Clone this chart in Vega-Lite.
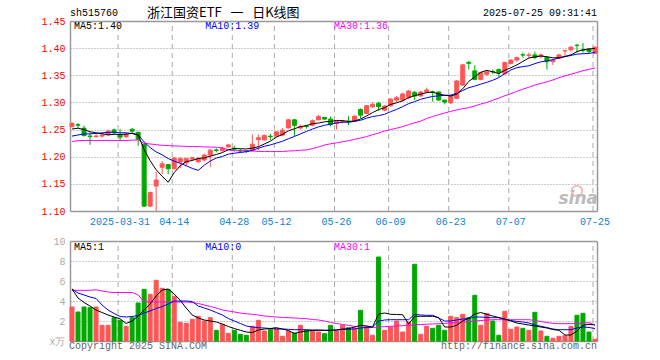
{
"$schema": "https://vega.github.io/schema/vega-lite/v6.json",
"width": 527, "height": 320,
"autosize": {"type": "none"},
"padding": {"left": 70, "top": 21, "right": 63, "bottom": 19},
"background": "white",
"config": {"view": {"stroke": null}, "font": "Liberation Mono", "text": {"font": "Liberation Mono", "fontSize": 10}},
"data": {"values": [
{"d":"2025-03-19","o":1.2556,"h":1.2638,"l":1.2538,"c":1.2611,"v":3.4,"m5":1.251,"m10":1.238,"m30":1.228,"vm5":5.2,"vm10":5.2,"vm30":5.07},
{"d":"2025-03-20","o":1.259,"h":1.262,"l":1.253,"c":1.258,"v":2.9,"m5":1.2525,"m10":1.24,"m30":1.2295,"vm5":4.3,"vm10":4.8,"vm30":5.07},
{"d":"2025-03-21","o":1.2525,"h":1.2575,"l":1.237,"c":1.239,"v":3.4,"m5":1.25,"m10":1.242,"m30":1.23,"vm5":3.85,"vm10":4.6,"vm30":5.07},
{"d":"2025-03-24","o":1.238,"h":1.245,"l":1.222,"c":1.237,"v":3.33,"m5":1.246,"m10":1.242,"m30":1.23,"vm5":3.5,"vm10":4.4,"vm30":5.07},
{"d":"2025-03-25","o":1.237,"h":1.242,"l":1.235,"c":1.238,"v":3.4,"m5":1.244,"m10":1.243,"m30":1.23,"vm5":3.1,"vm10":4.25,"vm30":5.13},
{"d":"2025-03-26","o":1.238,"h":1.243,"l":1.235,"c":1.24,"v":1.57,"m5":1.2424,"m10":1.244,"m30":1.23,"vm5":2.85,"vm10":3.6,"vm30":5.0},
{"d":"2025-03-27","o":1.2406,"h":1.25,"l":1.239,"c":1.247,"v":1.57,"m5":1.2402,"m10":1.245,"m30":1.23,"vm5":2.6,"vm10":3.1,"vm30":4.9},
{"d":"2025-03-28","o":1.2494,"h":1.252,"l":1.242,"c":1.244,"v":2.33,"m5":1.2412,"m10":1.245,"m30":1.23,"vm5":2.4,"vm10":2.75,"vm30":4.85},
{"d":"2025-03-31","o":1.2406,"h":1.251,"l":1.229,"c":1.236,"v":2.07,"m5":1.241,"m10":1.244,"m30":1.23,"vm5":2.23,"vm10":2.45,"vm30":4.85},
{"d":"2025-04-01","o":1.237,"h":1.244,"l":1.234,"c":1.241,"v":1.47,"m5":1.2416,"m10":1.2441,"m30":1.23,"vm5":1.75,"vm10":2.4,"vm30":4.85},
{"d":"2025-04-02","o":1.2506,"h":1.253,"l":1.242,"c":1.247,"v":2.33,"m5":1.243,"m10":1.2427,"m30":1.2305,"vm5":2.0,"vm10":2.45,"vm30":4.85},
{"d":"2025-04-03","o":1.245,"h":1.246,"l":1.22,"c":1.2325,"v":3.8,"m5":1.2401,"m10":1.2402,"m30":1.231,"vm5":2.5,"vm10":2.55,"vm30":4.6},
{"d":"2025-04-07","o":1.223,"h":1.224,"l":1.1075,"c":1.109,"v":5.17,"m5":1.2131,"m10":1.2272,"m30":1.2245,"vm5":3.1,"vm10":2.8,"vm30":3.95},
{"d":"2025-04-08","o":1.109,"h":1.136,"l":1.107,"c":1.134,"v":4.67,"m5":1.1927,"m10":1.2169,"m30":1.2235,"vm5":3.7,"vm10":3.0,"vm30":3.9},
{"d":"2025-04-09","o":1.146,"h":1.172,"l":1.1,"c":1.157,"v":6.07,"m5":1.1759,"m10":1.2088,"m30":1.2222,"vm5":4.5,"vm10":3.25,"vm30":3.9},
{"d":"2025-04-10","o":1.1806,"h":1.192,"l":1.168,"c":1.1869,"v":5.27,"m5":1.1639,"m10":1.2035,"m30":1.221,"vm5":5.1,"vm10":3.45,"vm30":3.9},
{"d":"2025-04-11","o":1.1856,"h":1.187,"l":1.168,"c":1.178,"v":5.13,"m5":1.153,"m10":1.1966,"m30":1.2205,"vm5":5.2,"vm10":3.7,"vm30":3.9},
{"d":"2025-04-14","o":1.178,"h":1.1994,"l":1.176,"c":1.1975,"v":4.47,"m5":1.1707,"m10":1.1919,"m30":1.2198,"vm5":4.7,"vm10":4.0,"vm30":3.9},
{"d":"2025-04-15","o":1.19,"h":1.1994,"l":1.179,"c":1.1963,"v":1.87,"m5":1.1831,"m10":1.1879,"m30":1.2195,"vm5":4.07,"vm10":4.0,"vm30":3.9},
{"d":"2025-04-16","o":1.189,"h":1.198,"l":1.1825,"c":1.1963,"v":1.77,"m5":1.1909,"m10":1.1834,"m30":1.219,"vm5":3.3,"vm10":4.0,"vm30":3.9},
{"d":"2025-04-17","o":1.1956,"h":1.2,"l":1.193,"c":1.198,"v":2.17,"m5":1.1931,"m10":1.1785,"m30":1.2188,"vm5":2.6,"vm10":3.95,"vm30":3.85},
{"d":"2025-04-18","o":1.1906,"h":1.1994,"l":1.1888,"c":1.1963,"v":2.47,"m5":1.1967,"m10":1.1749,"m30":1.2185,"vm5":2.3,"vm10":3.5,"vm30":3.75},
{"d":"2025-04-21","o":1.194,"h":1.206,"l":1.1916,"c":1.203,"v":2.0,"m5":1.1978,"m10":1.1843,"m30":1.218,"vm5":2.1,"vm10":3.3,"vm30":3.6},
{"d":"2025-04-22","o":1.203,"h":1.214,"l":1.181,"c":1.212,"v":2.33,"m5":1.201,"m10":1.1921,"m30":1.2178,"vm5":2.0,"vm10":3.1,"vm30":3.45},
{"d":"2025-04-23","o":1.2125,"h":1.2157,"l":1.208,"c":1.2115,"v":1.07,"m5":1.2041,"m10":1.1975,"m30":1.2175,"vm5":1.9,"vm10":2.85,"vm30":3.3},
{"d":"2025-04-24","o":1.211,"h":1.218,"l":1.2097,"c":1.2157,"v":1.67,"m5":1.2076,"m10":1.2004,"m30":1.216,"vm5":1.7,"vm10":2.6,"vm30":3.1},
{"d":"2025-04-25","o":1.218,"h":1.2235,"l":1.217,"c":1.2217,"v":0.77,"m5":1.2128,"m10":1.2047,"m30":1.2125,"vm5":1.45,"vm10":2.25,"vm30":3.0},
{"d":"2025-04-28","o":1.2157,"h":1.22,"l":1.2097,"c":1.214,"v":1.07,"m5":1.215,"m10":1.2064,"m30":1.211,"vm5":1.25,"vm10":2.0,"vm30":2.9},
{"d":"2025-04-29","o":1.211,"h":1.2145,"l":1.2073,"c":1.2105,"v":0.67,"m5":1.2147,"m10":1.2078,"m30":1.211,"vm5":1.07,"vm10":1.75,"vm30":2.8},
{"d":"2025-04-30","o":1.211,"h":1.212,"l":1.207,"c":1.2095,"v":0.57,"m5":1.2143,"m10":1.2092,"m30":1.211,"vm5":0.9,"vm10":1.5,"vm30":2.72},
{"d":"2025-05-06","o":1.212,"h":1.241,"l":1.2097,"c":1.223,"v":1.47,"m5":1.2157,"m10":1.2117,"m30":1.2105,"vm5":0.85,"vm10":1.4,"vm30":2.67},
{"d":"2025-05-07","o":1.2314,"h":1.241,"l":1.212,"c":1.235,"v":2.07,"m5":1.2184,"m10":1.2156,"m30":1.2097,"vm5":1.1,"vm10":1.33,"vm30":2.6},
{"d":"2025-05-08","o":1.2308,"h":1.241,"l":1.23,"c":1.239,"v":1.0,"m5":1.2234,"m10":1.2192,"m30":1.2097,"vm5":1.2,"vm10":1.3,"vm30":2.5},
{"d":"2025-05-09","o":1.2377,"h":1.242,"l":1.231,"c":1.237,"v":1.17,"m5":1.2287,"m10":1.2217,"m30":1.2095,"vm5":1.25,"vm10":1.25,"vm30":2.45},
{"d":"2025-05-12","o":1.238,"h":1.247,"l":1.236,"c":1.2458,"v":1.23,"m5":1.236,"m10":1.2251,"m30":1.2095,"vm5":1.33,"vm10":1.2,"vm30":2.4},
{"d":"2025-05-13","o":1.2398,"h":1.253,"l":1.238,"c":1.2488,"v":0.47,"m5":1.2411,"m10":1.2284,"m30":1.2095,"vm5":1.2,"vm10":1.2,"vm30":2.35},
{"d":"2025-05-14","o":1.253,"h":1.2693,"l":1.2518,"c":1.268,"v":1.0,"m5":1.2477,"m10":1.2331,"m30":1.2105,"vm5":1.05,"vm10":1.17,"vm30":2.33},
{"d":"2025-05-15","o":1.268,"h":1.269,"l":1.2374,"c":1.2578,"v":0.8,"m5":1.2515,"m10":1.2374,"m30":1.211,"vm5":0.75,"vm10":1.13,"vm30":2.3},
{"d":"2025-05-16","o":1.253,"h":1.259,"l":1.25,"c":1.256,"v":1.57,"m5":1.2553,"m10":1.242,"m30":1.212,"vm5":0.9,"vm10":1.13,"vm30":2.27},
{"d":"2025-05-19","o":1.2565,"h":1.259,"l":1.2518,"c":1.256,"v":1.07,"m5":1.2573,"m10":1.2466,"m30":1.2125,"vm5":1.0,"vm10":1.13,"vm30":2.23},
{"d":"2025-05-20","o":1.258,"h":1.2687,"l":1.256,"c":1.2663,"v":1.07,"m5":1.2608,"m10":1.251,"m30":1.215,"vm5":1.05,"vm10":1.1,"vm30":2.15},
{"d":"2025-05-21","o":1.268,"h":1.277,"l":1.267,"c":1.274,"v":0.9,"m5":1.262,"m10":1.2549,"m30":1.218,"vm5":1.07,"vm10":1.1,"vm30":2.1},
{"d":"2025-05-22","o":1.2723,"h":1.2725,"l":1.268,"c":1.2693,"v":0.73,"m5":1.2643,"m10":1.2579,"m30":1.2215,"vm5":1.07,"vm10":1.07,"vm30":2.0},
{"d":"2025-05-23","o":1.2693,"h":1.274,"l":1.256,"c":1.259,"v":1.57,"m5":1.2649,"m10":1.2601,"m30":1.2238,"vm5":1.07,"vm10":1.07,"vm30":1.85},
{"d":"2025-05-26","o":1.2612,"h":1.2673,"l":1.25,"c":1.2655,"v":1.0,"m5":1.2668,"m10":1.2621,"m30":1.2255,"vm5":1.1,"vm10":1.1,"vm30":1.75},
{"d":"2025-05-27","o":1.264,"h":1.2673,"l":1.261,"c":1.265,"v":1.57,"m5":1.2666,"m10":1.2637,"m30":1.2275,"vm5":1.2,"vm10":1.15,"vm30":1.65},
{"d":"2025-05-28","o":1.2656,"h":1.2747,"l":1.258,"c":1.265,"v":1.33,"m5":1.2648,"m10":1.2634,"m30":1.2295,"vm5":1.23,"vm10":1.17,"vm30":1.57},
{"d":"2025-05-29","o":1.2655,"h":1.276,"l":1.2643,"c":1.2747,"v":1.3,"m5":1.2658,"m10":1.2651,"m30":1.232,"vm5":1.4,"vm10":1.2,"vm30":1.45},
{"d":"2025-05-30","o":1.287,"h":1.289,"l":1.2704,"c":1.2766,"v":3.07,"m5":1.2694,"m10":1.2671,"m30":1.2345,"vm5":1.57,"vm10":1.3,"vm30":1.4},
{"d":"2025-06-03","o":1.2797,"h":1.295,"l":1.2785,"c":1.2939,"v":1.47,"m5":1.275,"m10":1.2709,"m30":1.237,"vm5":1.5,"vm10":1.35,"vm30":1.33},
{"d":"2025-06-04","o":1.292,"h":1.3,"l":1.29,"c":1.2963,"v":0.57,"m5":1.2813,"m10":1.2739,"m30":1.2405,"vm5":1.4,"vm10":1.4,"vm30":1.35},
{"d":"2025-06-05","o":1.2982,"h":1.3013,"l":1.2846,"c":1.292,"v":8.4,"m5":1.2867,"m10":1.2757,"m30":1.2435,"vm5":2.7,"vm10":2.0,"vm30":1.4},
{"d":"2025-06-06","o":1.2858,"h":1.295,"l":1.284,"c":1.2933,"v":1.07,"m5":1.2904,"m10":1.2781,"m30":1.2475,"vm5":2.8,"vm10":2.1,"vm30":1.43},
{"d":"2025-06-09","o":1.2939,"h":1.3075,"l":1.292,"c":1.3062,"v":1.4,"m5":1.2963,"m10":1.2829,"m30":1.25,"vm5":2.67,"vm10":2.13,"vm30":1.47},
{"d":"2025-06-10","o":1.3044,"h":1.3118,"l":1.3007,"c":1.3087,"v":2.0,"m5":1.2993,"m10":1.2872,"m30":1.2525,"vm5":2.65,"vm10":2.13,"vm30":1.5},
{"d":"2025-06-11","o":1.3044,"h":1.318,"l":1.3013,"c":1.3155,"v":0.9,"m5":1.3031,"m10":1.2922,"m30":1.2555,"vm5":2.63,"vm10":2.13,"vm30":1.53},
{"d":"2025-06-12","o":1.3093,"h":1.3229,"l":1.3056,"c":1.321,"v":1.9,"m5":1.3089,"m10":1.2978,"m30":1.259,"vm5":1.7,"vm10":2.13,"vm30":1.57},
{"d":"2025-06-13","o":1.3186,"h":1.321,"l":1.3044,"c":1.3118,"v":7.67,"m5":1.3126,"m10":1.3015,"m30":1.2625,"vm5":2.47,"vm10":2.67,"vm30":1.62},
{"d":"2025-06-16","o":1.3118,"h":1.321,"l":1.3106,"c":1.3192,"v":0.67,"m5":1.3152,"m10":1.3058,"m30":1.2655,"vm5":2.47,"vm10":2.6,"vm30":1.65},
{"d":"2025-06-17","o":1.3192,"h":1.3272,"l":1.3167,"c":1.3229,"v":1.47,"m5":1.3181,"m10":1.3087,"m30":1.2705,"vm5":2.47,"vm10":2.57,"vm30":1.68},
{"d":"2025-06-18","o":1.3195,"h":1.3216,"l":1.3013,"c":1.3192,"v":1.27,"m5":1.3188,"m10":1.311,"m30":1.274,"vm5":2.47,"vm10":2.57,"vm30":1.7},
{"d":"2025-06-19","o":1.3192,"h":1.3204,"l":1.3032,"c":1.3044,"v":1.57,"m5":1.3155,"m10":1.3122,"m30":1.2775,"vm5":2.35,"vm10":2.3,"vm30":1.73},
{"d":"2025-06-20","o":1.3044,"h":1.3044,"l":1.2964,"c":1.3007,"v":1.07,"m5":1.3133,"m10":1.313,"m30":1.2805,"vm5":1.4,"vm10":2.0,"vm30":1.77},
{"d":"2025-06-23","o":1.2994,"h":1.3136,"l":1.297,"c":1.3118,"v":2.47,"m5":1.3118,"m10":1.3135,"m30":1.2835,"vm5":1.4,"vm10":2.0,"vm30":1.8},
{"d":"2025-06-24","o":1.3075,"h":1.3414,"l":1.3062,"c":1.3395,"v":2.33,"m5":1.3151,"m10":1.3166,"m30":1.2862,"vm5":1.57,"vm10":2.1,"vm30":1.85},
{"d":"2025-06-25","o":1.3321,"h":1.371,"l":1.33,"c":1.3692,"v":2.67,"m5":1.3251,"m10":1.322,"m30":1.2885,"vm5":2.0,"vm10":2.2,"vm30":1.9},
{"d":"2025-06-26","o":1.3738,"h":1.3763,"l":1.3606,"c":1.372,"v":2.33,"m5":1.3386,"m10":1.3271,"m30":1.2905,"vm5":2.3,"vm10":2.25,"vm30":1.93},
{"d":"2025-06-27","o":1.3581,"h":1.3688,"l":1.3406,"c":1.3425,"v":4.57,"m5":1.347,"m10":1.3301,"m30":1.2935,"vm5":2.7,"vm10":2.4,"vm30":2.0},
{"d":"2025-06-30","o":1.3425,"h":1.3563,"l":1.3406,"c":1.355,"v":1.57,"m5":1.3556,"m10":1.3337,"m30":1.297,"vm5":2.85,"vm10":2.4,"vm30":2.05},
{"d":"2025-07-01","o":1.3519,"h":1.3581,"l":1.3488,"c":1.3563,"v":2.73,"m5":1.359,"m10":1.3371,"m30":1.3,"vm5":2.67,"vm10":2.35,"vm30":2.1},
{"d":"2025-07-02","o":1.3565,"h":1.3606,"l":1.3519,"c":1.3563,"v":2.0,"m5":1.3564,"m10":1.3408,"m30":1.304,"vm5":2.5,"vm10":2.33,"vm30":2.13},
{"d":"2025-07-03","o":1.3606,"h":1.3625,"l":1.3469,"c":1.355,"v":0.57,"m5":1.353,"m10":1.3458,"m30":1.308,"vm5":2.35,"vm10":2.33,"vm30":2.13},
{"d":"2025-07-04","o":1.3531,"h":1.3738,"l":1.35,"c":1.3738,"v":2.97,"m5":1.3593,"m10":1.3531,"m30":1.3125,"vm5":2.2,"vm10":2.15,"vm30":2.13},
{"d":"2025-07-07","o":1.3719,"h":1.3794,"l":1.37,"c":1.3781,"v":1.17,"m5":1.3639,"m10":1.3598,"m30":1.316,"vm5":2.0,"vm10":2.05,"vm30":2.13},
{"d":"2025-07-08","o":1.3781,"h":1.3844,"l":1.375,"c":1.3825,"v":1.4,"m5":1.3691,"m10":1.3641,"m30":1.3205,"vm5":1.8,"vm10":1.95,"vm30":2.13},
{"d":"2025-07-09","o":1.3877,"h":1.3919,"l":1.3825,"c":1.3875,"v":1.27,"m5":1.3754,"m10":1.3659,"m30":1.3245,"vm5":1.7,"vm10":1.9,"vm30":2.13},
{"d":"2025-07-10","o":1.3863,"h":1.3919,"l":1.3813,"c":1.3875,"v":1.07,"m5":1.3819,"m10":1.3675,"m30":1.328,"vm5":1.6,"vm10":1.8,"vm30":2.13},
{"d":"2025-07-11","o":1.3875,"h":1.3938,"l":1.3794,"c":1.3831,"v":2.87,"m5":1.3837,"m10":1.3715,"m30":1.332,"vm5":1.5,"vm10":1.6,"vm30":2.05},
{"d":"2025-07-14","o":1.3844,"h":1.3894,"l":1.3813,"c":1.3875,"v":1.0,"m5":1.3856,"m10":1.3748,"m30":1.335,"vm5":1.4,"vm10":1.47,"vm30":1.95},
{"d":"2025-07-15","o":1.3831,"h":1.3856,"l":1.3606,"c":1.375,"v":0.47,"m5":1.3841,"m10":1.3766,"m30":1.338,"vm5":1.3,"vm10":1.35,"vm30":1.85},
{"d":"2025-07-16","o":1.375,"h":1.3794,"l":1.3688,"c":1.3781,"v":0.27,"m5":1.3822,"m10":1.3788,"m30":1.3415,"vm5":1.15,"vm10":1.2,"vm30":1.77},
{"d":"2025-07-17","o":1.3813,"h":1.3894,"l":1.3794,"c":1.3875,"v":0.47,"m5":1.3822,"m10":1.3821,"m30":1.3455,"vm5":1.07,"vm10":1.13,"vm30":1.73},
{"d":"2025-07-18","o":1.395,"h":1.3969,"l":1.3856,"c":1.3956,"v":0.53,"m5":1.3847,"m10":1.3842,"m30":1.349,"vm5":0.6,"vm10":1.13,"vm30":1.73},
{"d":"2025-07-21","o":1.3969,"h":1.4031,"l":1.3938,"c":1.4019,"v":1.47,"m5":1.3876,"m10":1.3866,"m30":1.352,"vm5":0.6,"vm10":1.13,"vm30":1.73},
{"d":"2025-07-22","o":1.4052,"h":1.4081,"l":1.3919,"c":1.405,"v":2.57,"m5":1.3936,"m10":1.3889,"m30":1.355,"vm5":1.0,"vm10":1.3,"vm30":1.75},
{"d":"2025-07-23","o":1.396,"h":1.4094,"l":1.3919,"c":1.3956,"v":2.77,"m5":1.3971,"m10":1.3897,"m30":1.3585,"vm5":1.57,"vm10":1.4,"vm30":1.8},
{"d":"2025-07-24","o":1.3981,"h":1.4,"l":1.3906,"c":1.3938,"v":0.9,"m5":1.3984,"m10":1.3903,"m30":1.361,"vm5":1.67,"vm10":1.35,"vm30":1.83},
{"d":"2025-07-25","o":1.3906,"h":1.4031,"l":1.3894,"c":1.4019,"v":0.17,"m5":1.3996,"m10":1.3922,"m30":1.3635,"vm5":1.6,"vm10":1.25,"vm30":1.6}
]},
"resolve": {"scale": {"y": "independent"}, "axis": {"x": "independent", "y": "independent"}},
"layer": [
{
 "transform": [{"filter": {"field": "d", "oneOf": ["2025-03-31","2025-04-14","2025-04-28","2025-05-12","2025-05-26","2025-06-09","2025-06-23","2025-07-07","2025-07-25"]}}],
 "mark": {"type": "rule", "color": "#aaaaaa", "strokeDash": [5, 4], "strokeWidth": 1},
 "encoding": {
  "x": {"field": "d", "type": "ordinal", "bandPosition": 0, "title": null, "scale": {"type": "band", "paddingInner": 0.333, "paddingOuter": 0},
        "axis": {"orient": "top", "labels": false, "ticks": false, "grid": false, "domain": true, "domainColor": "#999999", "domainWidth": 1.5, "title": null}},
  "y": {"datum": 1.1, "type": "quantitative", "scale": {"domain": [1.1, 1.45], "range": [190, 0], "nice": false, "zero": false},
        "axis": {"orient": "right", "labels": false, "ticks": false, "grid": false, "domain": true, "domainColor": "#999999", "domainWidth": 1.5, "title": null}},
  "y2": {"datum": 1.45}
 }
},
{
 "transform": [{"filter": {"field": "d", "oneOf": ["2025-03-31","2025-04-14","2025-04-28","2025-05-12","2025-05-26","2025-06-09","2025-06-23","2025-07-07","2025-07-25"]}}],
 "mark": {"type": "rule", "color": "#aaaaaa", "strokeDash": [5, 4], "strokeWidth": 1},
 "encoding": {
  "x": {"field": "d", "type": "ordinal", "bandPosition": 0, "title": null, "scale": {"type": "band", "paddingInner": 0.333, "paddingOuter": 0},
        "axis": {"orient": "top", "offset": -220, "labels": false, "ticks": false, "grid": false, "domain": true, "domainColor": "#999999", "domainWidth": 1.5, "title": null}},
  "y": {"datum": 0, "type": "quantitative", "scale": {"domain": [0, 10], "range": [320, 220], "nice": false, "zero": false},
        "axis": {"orient": "right", "labels": false, "ticks": false, "grid": false, "domain": true, "domainColor": "#999999", "domainWidth": 1.5, "title": null}},
  "y2": {"datum": 10}
 }
},
{
 "layer": [
  {
   "mark": {"type": "rule", "strokeWidth": 1},
   "encoding": {
    "x": {"field": "d", "type": "ordinal", "title": null, "scale": {"type": "band", "paddingInner": 0.333, "paddingOuter": 0},
          "axis": {"orient": "bottom", "offset": -130, "values": ["2025-03-31","2025-04-14","2025-04-28","2025-05-12","2025-05-26","2025-06-09","2025-06-23","2025-07-07","2025-07-25"],
                   "labelExpr": "datum.value == '2025-03-31' ? datum.value : substring(datum.value, 5, 10)",
                   "bandPosition": 0, "labelAngle": 0, "labelColor": "#0a84d6", "labelFont": "Liberation Mono", "labelFontSize": 10, "labelPadding": 5,
                   "ticks": false, "grid": false, "domain": true, "domainColor": "#999999", "domainWidth": 1.5, "title": null}},
    "y": {"field": "l", "type": "quantitative", "title": null, "scale": {"domain": [1.1, 1.45], "range": [190, 0], "nice": false, "zero": false},
          "axis": {"orient": "left", "values": [1.1, 1.15, 1.2, 1.25, 1.3, 1.35, 1.4, 1.45], "format": ".2f", "labelColor": "#ff0000", "labelFont": "Liberation Mono", "labelFontSize": 10, "labelPadding": 5,
                   "ticks": false, "grid": true, "gridColor": "#999999", "gridDash": [1, 2], "domain": true, "domainColor": "#999999", "domainWidth": 1.5, "title": null}},
    "y2": {"field": "h"},
    "color": {"condition": {"test": "datum.c >= datum.o", "value": "#ff5555"}, "value": "#00a800"}
   }
  },
  {
   "mark": {"type": "bar", "strokeWidth": 1},
   "encoding": {
    "x": {"field": "d", "type": "ordinal", "title": null},
    "y": {"field": "o", "type": "quantitative", "title": null},
    "y2": {"field": "c"},
    "fill": {"condition": {"test": "datum.c >= datum.o", "value": "#ff5555"}, "value": "#00a800"},
    "stroke": {"condition": {"test": "datum.c >= datum.o", "value": "#ff5555"}, "value": "#00a800"}
   }
  },
  {"mark": {"type": "line", "color": "#ff00ff", "strokeWidth": 1}, "encoding": {"x": {"field": "d", "type": "ordinal", "title": null}, "y": {"field": "m30", "type": "quantitative", "title": null}}},
  {"mark": {"type": "line", "color": "#0000ff", "strokeWidth": 1}, "encoding": {"x": {"field": "d", "type": "ordinal", "title": null}, "y": {"field": "m10", "type": "quantitative", "title": null}}},
  {"mark": {"type": "line", "color": "#000000", "strokeWidth": 1}, "encoding": {"x": {"field": "d", "type": "ordinal", "title": null}, "y": {"field": "m5", "type": "quantitative", "title": null}}},
  {"transform": [{"filter": {"field": "d", "equal": "2025-03-19"}}], "mark": {"type": "text", "align": "left", "baseline": "middle", "dx": 2, "color": "#000000", "fontSize": 10},
   "encoding": {"x": {"field": "d", "type": "ordinal", "title": null}, "y": {"datum": 1.4399, "type": "quantitative"}, "text": {"value": "MA5:1.40"}}},
  {"transform": [{"filter": {"field": "d", "equal": "2025-04-21"}}], "mark": {"type": "text", "align": "left", "baseline": "middle", "dx": 1, "color": "#0000ff", "fontSize": 10},
   "encoding": {"x": {"field": "d", "type": "ordinal", "title": null}, "y": {"datum": 1.4399, "type": "quantitative"}, "text": {"value": "MA10:1.39"}}},
  {"transform": [{"filter": {"field": "d", "equal": "2025-05-23"}}], "mark": {"type": "text", "align": "left", "baseline": "middle", "dx": 3.5, "color": "#ff00ff", "fontSize": 10},
   "encoding": {"x": {"field": "d", "type": "ordinal", "title": null}, "y": {"datum": 1.4399, "type": "quantitative"}, "text": {"value": "MA30:1.36"}}},
  {"transform": [{"filter": {"field": "d", "equal": "2025-03-19"}}], "mark": {"type": "text", "align": "left", "baseline": "middle", "dx": -2, "color": "#000000", "fontSize": 10},
   "encoding": {"x": {"field": "d", "type": "ordinal", "title": null}, "y": {"datum": 1.4647, "type": "quantitative"}, "text": {"value": "sh515760"}}},
  {"transform": [{"filter": {"field": "d", "equal": "2025-04-24"}}], "mark": {"type": "text", "align": "center", "baseline": "middle", "dx": 1, "color": "#000000", "fontSize": 13, "font": "Noto Sans CJK SC"},
   "encoding": {"x": {"field": "d", "type": "ordinal", "title": null}, "y": {"datum": 1.4647, "type": "quantitative"}, "text": {"value": "浙江国资ETF\u00a0\u00a0\u00a0一\u00a0\u00a0\u00a0日K线图"}}},
  {"transform": [{"filter": {"field": "d", "equal": "2025-07-25"}}], "mark": {"type": "text", "align": "right", "baseline": "middle", "dx": 2, "color": "#000000", "fontSize": 10},
   "encoding": {"x": {"field": "d", "type": "ordinal", "title": null}, "y": {"datum": 1.4647, "type": "quantitative"}, "text": {"value": "2025-07-25 09:31:41"}}},
  {"transform": [{"filter": {"field": "d", "equal": "2025-07-22"}}], "mark": {"type": "point", "filled": false, "stroke": "#f2a5a5", "strokeWidth": 2, "size": 110, "dx": 3},
   "encoding": {"x": {"field": "d", "type": "ordinal", "title": null}, "y": {"datum": 1.1368, "type": "quantitative"}}},
  {"transform": [{"filter": {"field": "d", "equal": "2025-07-25"}}], "mark": {"type": "text", "align": "right", "baseline": "middle", "dx": 3, "color": "#bbbbbb", "fontSize": 17, "fontStyle": "italic", "fontWeight": "bold", "font": "DejaVu Sans"},
   "encoding": {"x": {"field": "d", "type": "ordinal", "title": null}, "y": {"datum": 1.1221, "type": "quantitative"}, "text": {"value": "sina"}}}
 ]
},
{
 "layer": [
  {
   "mark": {"type": "bar", "strokeWidth": 1},
   "encoding": {
    "x": {"field": "d", "type": "ordinal", "title": null, "scale": {"type": "band", "paddingInner": 0.333, "paddingOuter": 0},
          "axis": {"orient": "bottom", "labels": false, "ticks": false, "grid": false, "domain": true, "domainColor": "#999999", "domainWidth": 1.5, "title": null}},
    "y": {"field": "v", "type": "quantitative", "title": null, "scale": {"domain": [0, 10], "range": [320, 220], "nice": false, "zero": true},
          "axis": {"orient": "left", "values": [0, 2, 4, 6, 8, 10], "labelExpr": "datum.value == 0 ? 'x万' : datum.label", "labelColor": "#aaaaaa", "labelFont": "Liberation Mono", "labelFontSize": 10, "labelPadding": 5,
                   "ticks": false, "grid": true, "gridColor": "#999999", "gridDash": [1, 2], "domain": true, "domainColor": "#999999", "domainWidth": 1.5, "title": null}},
    "fill": {"condition": {"test": "datum.c >= datum.o", "value": "#ff5555"}, "value": "#00a800"},
    "stroke": {"condition": {"test": "datum.c >= datum.o", "value": "#ff5555"}, "value": "#00a800"}
   }
  },
  {"mark": {"type": "line", "color": "#ff00ff", "strokeWidth": 1}, "encoding": {"x": {"field": "d", "type": "ordinal", "title": null}, "y": {"field": "vm30", "type": "quantitative", "title": null}}},
  {"mark": {"type": "line", "color": "#0000ff", "strokeWidth": 1}, "encoding": {"x": {"field": "d", "type": "ordinal", "title": null}, "y": {"field": "vm10", "type": "quantitative", "title": null}}},
  {"mark": {"type": "line", "color": "#000000", "strokeWidth": 1}, "encoding": {"x": {"field": "d", "type": "ordinal", "title": null}, "y": {"field": "vm5", "type": "quantitative", "title": null}}},
  {"transform": [{"filter": {"field": "d", "equal": "2025-03-19"}}], "mark": {"type": "text", "align": "left", "baseline": "middle", "dx": 2, "color": "#000000", "fontSize": 10},
   "encoding": {"x": {"field": "d", "type": "ordinal", "title": null}, "y": {"datum": 9.45, "type": "quantitative"}, "text": {"value": "MA5:1"}}},
  {"transform": [{"filter": {"field": "d", "equal": "2025-04-21"}}], "mark": {"type": "text", "align": "left", "baseline": "middle", "dx": 1, "color": "#0000ff", "fontSize": 10},
   "encoding": {"x": {"field": "d", "type": "ordinal", "title": null}, "y": {"datum": 9.45, "type": "quantitative"}, "text": {"value": "MA10:0"}}},
  {"transform": [{"filter": {"field": "d", "equal": "2025-05-23"}}], "mark": {"type": "text", "align": "left", "baseline": "middle", "dx": 3.5, "color": "#ff00ff", "fontSize": 10},
   "encoding": {"x": {"field": "d", "type": "ordinal", "title": null}, "y": {"datum": 9.45, "type": "quantitative"}, "text": {"value": "MA30:1"}}},
  {"transform": [{"filter": {"field": "d", "equal": "2025-03-19"}}], "mark": {"type": "text", "align": "left", "baseline": "middle", "dx": -3, "color": "#666666", "fontSize": 10},
   "encoding": {"x": {"field": "d", "type": "ordinal", "title": null}, "y": {"datum": -0.5, "type": "quantitative"}, "text": {"value": "Copyright 2025 SINA.COM"}}},
  {"transform": [{"filter": {"field": "d", "equal": "2025-07-25"}}], "mark": {"type": "text", "align": "right", "baseline": "middle", "dx": 2, "color": "#666666", "fontSize": 10},
   "encoding": {"x": {"field": "d", "type": "ordinal", "title": null}, "y": {"datum": -0.5, "type": "quantitative"}, "text": {"value": "http://finance.sina.com.cn"}}}
 ]
}
]
}
